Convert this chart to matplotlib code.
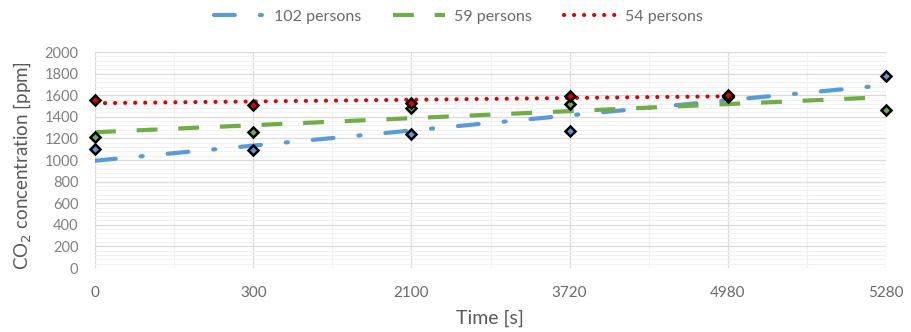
import numpy as np
import matplotlib
matplotlib.use("Agg")
import matplotlib.pyplot as plt
from matplotlib.ticker import MultipleLocator

plt.rcParams['font.family'] = ['Lato', 'DejaVu Sans']

time_labels = ["0", "300", "2100", "3720", "4980", "5280"]
p102 = [1100, 1090, 1240, 1270, 1580, 1780]
p59 = [1210, 1260, 1480, 1520, 1590, 1460]
p54 = [1560, 1510, 1530, 1590, 1600]

series = [
    ("102 persons", p102, "#5B9BD5"),
    ("59 persons", p59, "#70AD47"),
    ("54 persons", p54, "#E00000"),
]

fig = plt.figure(figsize=(9.11, 3.32), dpi=100)
ax = fig.add_axes([95/911, 1-268/332, (886-95)/911, (268-52)/332])

styles = {
    "102 persons": dict(dashes=(5, 6, 0.5, 6), dash_capstyle='round'),
    "59 persons": dict(dashes=(5, 5), dash_capstyle='butt'),
    "54 persons": dict(dashes=(0.01, 2.4), dash_capstyle='round'),
}

handles = []
for name, vals, col in series:
    x = np.arange(len(vals))
    k, b = np.polyfit(x, vals, 1)
    ln, = ax.plot(x, k * x + b, color=col, lw=3.0, label=name, zorder=3, **styles[name])
    handles.append(ln)

for name, vals, col in series:
    x = np.arange(len(vals))
    ax.plot(x, vals, ls='none', marker='D', ms=5.5, mfc=col, mec='black', mew=1.8, zorder=5,
            clip_on=False)

ax.set_xlim(0, 5)
ax.set_ylim(0, 2000)
ax.set_xticks(range(len(time_labels)))
ax.set_xticklabels(time_labels)
ax.xaxis.set_minor_locator(MultipleLocator(0.5))
ax.yaxis.set_major_locator(MultipleLocator(200))
ax.yaxis.set_minor_locator(MultipleLocator(40))
ax.grid(which='major', color='#dadada', lw=0.9, zorder=0)
ax.grid(which='minor', color='#f1f1f1', lw=0.8, zorder=0)
ax.set_axisbelow(True)
for s in ax.spines.values():
    s.set_visible(False)
ax.tick_params(which='both', length=0)
ax.tick_params(axis='y', pad=12, labelsize=10.5, labelcolor='#808080')
ax.tick_params(axis='x', pad=13, labelsize=11, labelcolor='#6a6a6a')

fig.text(490/911, 1-318/332, "Time [s]", ha='center', va='center', fontsize=14, color='#595959')
fig.text(22/911, 1-166/332, "CO$_2$ concentration [ppm]", ha='center', va='center',
         rotation=90, fontsize=13.5, color='#595959')

leg = fig.legend(handles=handles, loc='center', bbox_to_anchor=(458/911, 1-17/332), ncol=3,
                 frameon=False, fontsize=11.5, handlelength=3.2, columnspacing=2.0, handletextpad=0.6)
for t in leg.get_texts():
    t.set_color('#6a6a6a')

fig.savefig("out.png", dpi=100)
